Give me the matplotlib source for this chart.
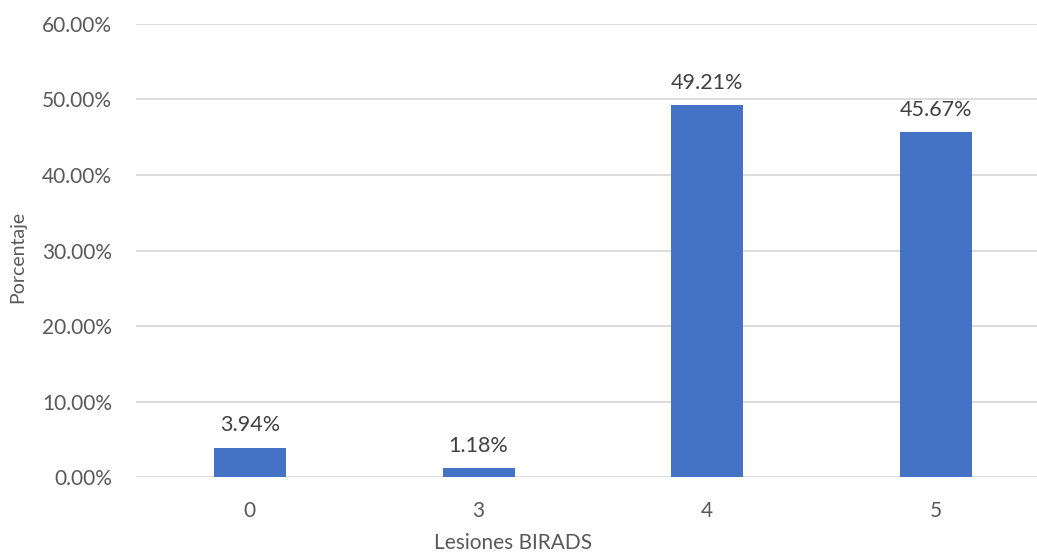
import matplotlib.pyplot as plt
from matplotlib.ticker import FuncFormatter

categorias = ["0", "3", "4", "5"]
porcentajes = [3.94, 1.18, 49.21, 45.67]
ticks_y = [0, 10, 20, 30, 40, 50, 60]

plt.rcParams['font.family'] = ['Lato', 'DejaVu Sans']

fig = plt.figure(figsize=(10.37, 5.56), dpi=100)
ax = fig.add_axes([0.1307, 0.1415, 0.8693, 0.8159])

x = list(range(len(categorias)))
barras = ax.bar(x, porcentajes, width=0.315, color="#4472c4", zorder=3)

for xi, v in zip(x, porcentajes):
    ax.annotate(f"{v:.2f}%", xy=(xi, v), xytext=(0, 9), textcoords="offset points",
                ha="center", va="bottom", fontsize=15.5, color="#404040")

ax.set_xlim(-0.5, -0.5 + (1037 - 135.5) / 228.7)
ax.set_ylim(0, 60)
ax.set_yticks(ticks_y)
ax.yaxis.set_major_formatter(FuncFormatter(lambda v, p: f"{v:.2f}%"))
ax.set_xticks(x)
ax.set_xticklabels(categorias)
ax.grid(axis="y", color="#d9d9d9", linewidth=1.3, zorder=0)

for s in ax.spines.values():
    s.set_visible(False)
ax.tick_params(length=0, labelsize=15, colors="#595959", pad=17)
ax.tick_params(axis="y", pad=17)

fig.text(0.4947, 0.005, "Lesiones BIRADS", ha="center", va="bottom", fontsize=15, color="#595959")
fig.text(0.017, 0.537, "Porcentaje", rotation=90, ha="center", va="center", fontsize=14, color="#595959")

fig.savefig("out.png", dpi=100)
